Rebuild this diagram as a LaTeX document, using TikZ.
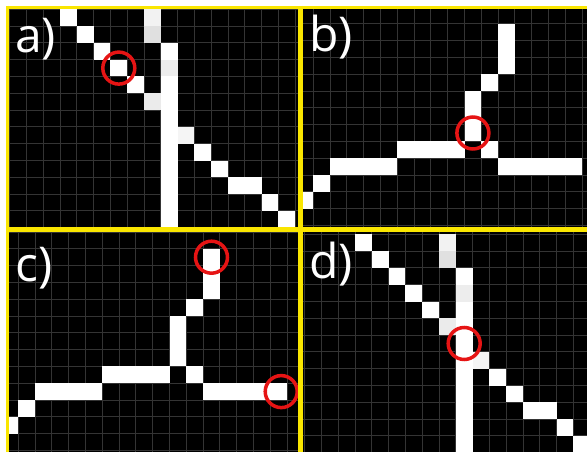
\documentclass[tikz,border=0pt]{standalone}
\usepackage{fontspec}
\newfontfamily\panelfont{Open Sans}
\usetikzlibrary{positioning}
\definecolor{frameyellow}{RGB}{250,230,0}
\definecolor{ringred}{RGB}{230,20,20}
\definecolor{gridgray}{RGB}{52,52,52}
\newcommand{\cw}{16.8}
\newcommand{\pixgrid}{%
  \foreach \ii in {-1,...,18} \draw[gridln] (\ii*\cw,-\cw) -- (\ii*\cw,15*\cw);
  \foreach \jj in {-1,...,14} \draw[gridln] (-\cw,\jj*\cw) -- (19*\cw,\jj*\cw);}
\newcommand{\skelcross}{%
  \foreach \xx/\yy in {3/0,4/1,5/2,6/3,7/4,9/2,9/4,9/5,9/6,9/7,9/8,9/9,9/10,9/11,9/12,9/13,
                       10/7,11/8,12/9,13/10,14/10,15/11,16/12}
    \fill[px] (\xx*\cw,\yy*\cw) rectangle ++(\cw,\cw);
  \foreach \xx/\yy/\tt in {8/0/5,8/1/12,9/3/7,8/5/8,10/7/4}
    \fill[px, fill=black!\tt] (\xx*\cw,\yy*\cw) rectangle ++(\cw,\cw);}
\newcommand{\skelfork}{%
  \foreach \xx/\yy in {11/1,11/2,11/3,10/4,9/5,9/6,9/7,5/8,6/8,7/8,8/8,10/8,
                       1/9,2/9,3/9,4/9,11/9,12/9,13/9,14/9,15/9,0/10,-1/11}
    \fill[px] (\xx*\cw,\yy*\cw) rectangle ++(\cw,\cw);}

\begin{document}
\begin{tikzpicture}[
  x=1pt, y=-1pt,
  px/.style={fill=white},
  gridln/.style={draw=gridgray, line width=0.9pt},
  ring/.style={circle, draw=ringred, line width=3.5pt, minimum size=32pt, inner sep=0pt},
  lbl/.style={font=\panelfont\fontsize{48}{48}\selectfont, text=white, inner sep=0pt, anchor=base west},
  frame/.style={draw=frameyellow}
]
  \useasboundingbox (0,0) rectangle (587,452);
  \fill[white] (0,0) rectangle (587,452);
  \fill[black] (7.7,7.7) rectangle (587,452);

  \begin{scope}
    \clip (7.7,7.7) rectangle (300.5,229.2);
    \begin{scope}[shift={(9.6,9.3)}]
      \pixgrid
      \skelcross
      \node[ring] (ringa) at (6.5*\cw,3.5*\cw) {};
    \end{scope}
  \end{scope}

  \begin{scope}
    \clip (300.5,7.7) rectangle (587,229.2);
    \begin{scope}[shift={(313.3,7)}]
      \pixgrid
      \skelfork
      \node[ring] (ringb) at (9.5*\cw,7.5*\cw) {};
    \end{scope}
  \end{scope}

  \begin{scope}
    \clip (7.7,229.2) rectangle (300.5,452);
    \begin{scope}[shift={(18.3,232)}]
      \pixgrid
      \skelfork
      \node[ring] (ringctop) at (11.5*\cw,1.5*\cw) {};
      \node[ring] (ringcend) at (15.65*\cw,9.5*\cw) {};
    \end{scope}
  \end{scope}

  \begin{scope}
    \clip (300.5,229.2) rectangle (587,452);
    \begin{scope}[shift={(304.6,234.3)}]
      \pixgrid
      \skelcross
      \node[ring] (ringd) at (9.5*\cw,6.5*\cw) {};
    \end{scope}
  \end{scope}

  \node[lbl] (laba) at (15,53) {a)};
  \node[lbl] (labb) at (309,52) {b)};
  \node[lbl] (labc) at (15,281) {c)};
  \node[lbl] (labd) at (309,278) {d)};

  \draw[frame, line width=3.3pt] (7.7,6) -- (7.7,452);
  \draw[frame, line width=3.3pt] (6,7.7) -- (587,7.7);
  \draw[frame, line width=4.4pt] (300.5,6) -- (300.5,452);
  \draw[frame, line width=4.8pt] (6,229.2) -- (587,229.2);
\end{tikzpicture}
\end{document}
